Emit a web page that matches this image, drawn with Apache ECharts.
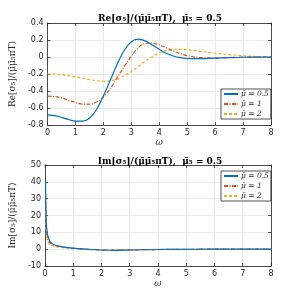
<!DOCTYPE html>
<html><head><meta charset="utf-8">
<script src="https://cdn.jsdelivr.net/npm/echarts@6/dist/echarts.min.js"></script>
<style>html,body{margin:0;padding:0;background:#fff}#c{width:300px;height:300px}</style>
</head><body><div id="c"></div>
<script>
// ---- data ----
const seriesNames = ['\u03bc\u0304 = 0.5', '\u03bc\u0304 = 1', '\u03bc\u0304 = 2'];
const omegaRe = [0,0.25,0.5,0.75,1,1.25,1.5,1.75,2,2.25,2.5,2.75,3,3.25,3.5,3.75,4,4.25,4.5,4.75,5,5.5,6,6.5,7,7.5,8];
const reMu05 = [-0.68,-0.69,-0.71,-0.735,-0.755,-0.755,-0.72,-0.62,-0.46,-0.27,-0.08,0.08,0.18,0.21,0.19,0.14,0.09,0.045,0.012,-0.008,-0.018,-0.02,-0.014,-0.008,-0.003,-0.001,0];
const reMu1  = [-0.46,-0.465,-0.48,-0.51,-0.535,-0.555,-0.555,-0.53,-0.47,-0.37,-0.24,-0.11,0.01,0.11,0.16,0.165,0.14,0.11,0.07,0.04,0.015,-0.008,-0.01,-0.006,-0.002,0,0];
const reMu2  = [-0.2,-0.203,-0.21,-0.22,-0.235,-0.25,-0.265,-0.278,-0.285,-0.28,-0.26,-0.22,-0.17,-0.11,-0.05,0.0,0.05,0.075,0.088,0.09,0.085,0.065,0.045,0.028,0.015,0.006,0.002];
const omegaIm = [0.02,0.05,0.1,0.15,0.2,0.3,0.5,0.75,1,1.5,2,2.5,3,4,5,6,7,8];
const imMu05 = [40,15,8,5.5,4,2.8,1.8,1.1,0.6,0,-0.5,-0.7,-0.5,-0.2,-0.1,0,0,0];
const imMu1  = [33,12,6,4.3,3.2,2.3,1.5,0.9,0.5,-0.1,-0.5,-0.6,-0.45,-0.2,-0.08,0,0,0];
const imMu2  = [22,9,4.5,3.3,2.5,1.9,1.2,0.7,0.35,-0.15,-0.45,-0.5,-0.4,-0.2,-0.08,0,0,0];
const reTicks = {min:-0.8, max:0.4, interval:0.2};
const imTicks = {min:-10, max:50, interval:10};
const xTicks = {min:0, max:8, interval:1};

const colors = ['#0072BD','#D95319','#EDB120'];
const lineTypes = ['solid',[4,1.5,1,1.5],[3,2]];
const serif = 'DejaVu Serif';
const axisCol = '#262626';

const zip = (xs, ys) => xs.map((x,i)=>[x, ys[i]]);

function grids(top, h){ return {left:39, right:29, top:top, height:h}; }

const xAxisBase = (gi, pos, labels) => ({
  type:'value', gridIndex:gi, position:pos, min:xTicks.min, max:xTicks.max, interval:xTicks.interval,
  axisLine:{show:true, onZero:false, lineStyle:{color:axisCol, width:0.8}},
  axisTick:{show:true, inside:true, length:3, lineStyle:{color:axisCol, width:0.8}},
  axisLabel:{show:labels, color:axisCol, fontSize:8, margin:4, fontFamily:'DejaVu Sans'},
  splitLine:{show:pos==='bottom', lineStyle:{color:'#e6e6e6', width:0.8}},
  name: labels ? '\u03c9' : '', nameLocation:'middle', nameGap:12,
  nameTextStyle:{fontFamily:serif, fontStyle:'italic', fontSize:9, color:axisCol}
});
const yAxisBase = (gi, pos, t, labels, name) => ({
  type:'value', gridIndex:gi, position:pos, min:t.min, max:t.max, interval:t.interval,
  axisLine:{show:true, onZero:false, lineStyle:{color:axisCol, width:0.8}},
  axisTick:{show:true, inside:true, length:3, lineStyle:{color:axisCol, width:0.8}},
  axisLabel:{show:labels, color:axisCol, fontSize:8, margin:4, fontFamily:'DejaVu Sans'},
  splitLine:{show:pos==='left', lineStyle:{color:'#e6e6e6', width:0.8}},
  name: labels ? name : '', nameLocation:'middle', nameGap:23,
  nameTextStyle:{fontFamily:serif, fontSize:9, color:axisCol}
});

const reData = [reMu05, reMu1, reMu2];
const imData = [imMu05, imMu1, imMu2];
const series = [];
for (let i=0;i<3;i++){
  series.push({name:seriesNames[i], type:'line', xAxisIndex:0, yAxisIndex:0, data:zip(omegaRe, reData[i]),
    smooth:0.35, symbol:'none', lineStyle:{color:colors[i], width:1.2, type:lineTypes[i]}, itemStyle:{color:colors[i]}, z:5-i});
}
for (let i=0;i<3;i++){
  series.push({name:seriesNames[i], type:'line', xAxisIndex:2, yAxisIndex:2, data:zip(omegaIm, imData[i]),
    smooth:0.3, symbol:'none', lineStyle:{color:colors[i], width:1.2, type:lineTypes[i]}, itemStyle:{color:colors[i]}, z:5-i});
}

const legendBase = (top) => ({
  data:seriesNames, orient:'vertical', left:221, top:top, itemWidth:14, itemHeight:8, itemGap:2,
  padding:[1,2,1,2], borderColor:'#262626', borderWidth:0.8, backgroundColor:'#fff',
  itemStyle:{opacity:0},
  textStyle:{fontFamily:serif, fontStyle:'italic', fontSize:7.5, color:axisCol, padding:[0,0,0,-2]}
});

const chart = echarts.init(document.getElementById('c'), null, {renderer:'canvas'});
chart.setOption({
  animation:false,
  title:[
    {text:'Re[\u03c3\u2085]/(\u03bc\u0304\u03bc\u0304\u2085\u03c0T),  \u03bc\u0304\u2085 = 0.5', left:155, top:9, textAlign:'center',
     textStyle:{fontFamily:serif, fontWeight:'bold', fontSize:9, color:'#000'}},
    {text:'Im[\u03c3\u2085]/(\u03bc\u0304\u03bc\u0304\u2085\u03c0T),  \u03bc\u0304\u2085 = 0.5', left:155, top:152, textAlign:'center',
     textStyle:{fontFamily:serif, fontWeight:'bold', fontSize:9, color:'#000'}}
  ],
  grid:[grids(23,102), grids(165,101)],
  xAxis:[xAxisBase(0,'bottom',true), xAxisBase(0,'top',false), xAxisBase(1,'bottom',true), xAxisBase(1,'top',false)],
  yAxis:[yAxisBase(0,'left',reTicks,true,'Re[\u03c3\u2085]/(\u03bc\u0304\u03bc\u0304\u2085\u03c0T)'), yAxisBase(0,'right',reTicks,false,''),
         yAxisBase(1,'left',imTicks,true,'Im[\u03c3\u2085]/(\u03bc\u0304\u03bc\u0304\u2085\u03c0T)'), yAxisBase(1,'right',imTicks,false,'')],
  legend:[legendBase(89), legendBase(171)],
  series:series
});
</script></body></html>
